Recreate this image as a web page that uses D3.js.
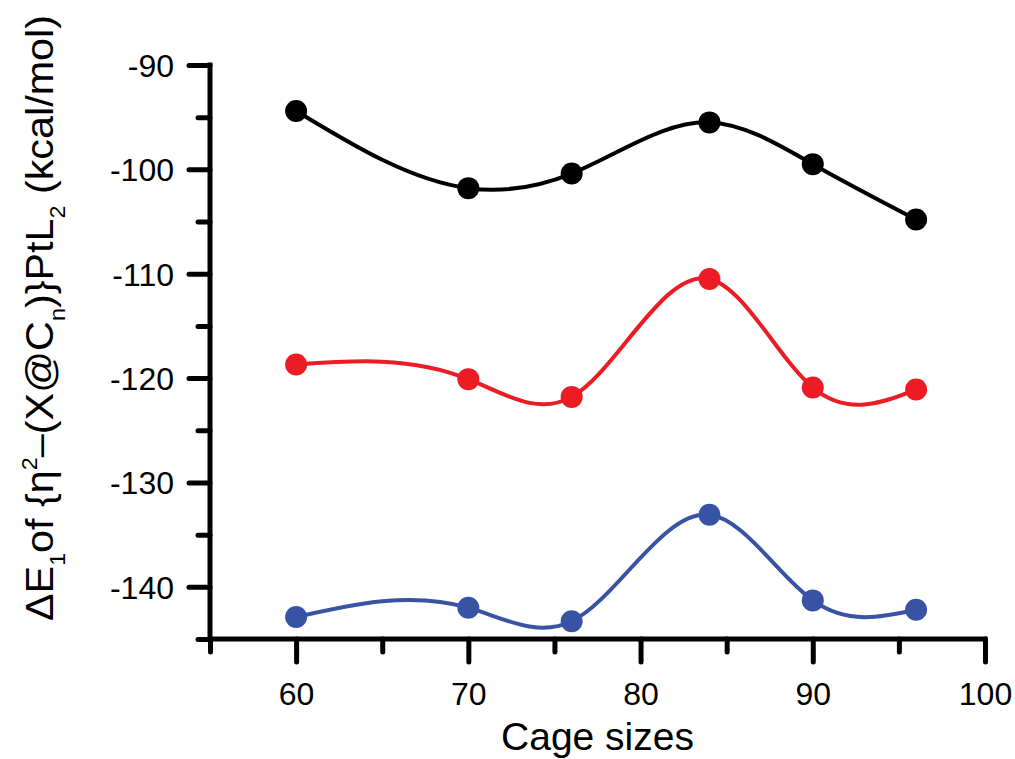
<!DOCTYPE html>
<html>
<head>
<meta charset="utf-8">
<script src="https://cdn.jsdelivr.net/npm/d3@7"></script>
<style>
  body { margin: 0; background: #fff; }
  text { font-family: Arial, "Liberation Sans", sans-serif; fill: #000; }
</style>
</head>
<body>
<div id="chart"></div>
<script>
// cage sizes (n of C_n)
var cageSizes = [60, 70, 76, 84, 90, 96];

// dE1 values (kcal/mol)
var blackSeries = [-94.4, -101.8, -100.4, -95.5, -99.5, -104.8];
var redSeries = [-118.7, -120.1, -121.8, -110.5, -120.9, -121.1];
var blueSeries = [-142.9, -142.0, -143.3, -133.1, -141.3, -142.2];

var xMajorTicks = [60, 70, 80, 90, 100];
var xMinorTicks = [55, 65, 75, 85, 95];
var yMajorTicks = [-90, -100, -110, -120, -130, -140];
var yMinorTicks = [-95, -105, -115, -125, -135, -145];

var series = [
    {name: "black", values: blackSeries, color: "#000000"},
    {name: "red", values: redSeries, color: "#ed1c24"},
    {name: "blue", values: blueSeries, color: "#3953a4"}
];

var W = 1015, H = 759;
var plotLeft = 210, plotRight = 985, plotTop = 65, plotBottom = 639;

// natural cubic spline with y as a function of x (like Origin's spline connector)
function CurveSplineX(context) { this._context = context; }
CurveSplineX.prototype = {
    areaStart: function() { this._line = 0; },
    areaEnd: function() { this._line = NaN; },
    lineStart: function() { this._x = []; this._y = []; },
    point: function(x, y) { this._x.push(+x); this._y.push(+y); },
    lineEnd: function() {
        var xs = this._x, ys = this._y, n = xs.length, ctx = this._context;
        if (!n) return;
        ctx.moveTo(xs[0], ys[0]);
        if (n < 3) { if (n == 2) ctx.lineTo(xs[1], ys[1]); return; }
        var h = [], M = [], i;
        for (i = 0; i < n - 1; i++) h[i] = xs[i + 1] - xs[i];
        for (i = 0; i < n; i++) M[i] = 0;
        // tridiagonal solve for interior second derivatives
        var cp = [], dp = [];
        for (i = 1; i < n - 1; i++) {
            var a = h[i - 1], b = 2 * (h[i - 1] + h[i]), c = h[i];
            var r = 6 * ((ys[i + 1] - ys[i]) / h[i] - (ys[i] - ys[i - 1]) / h[i - 1]);
            if (i == 1) { cp[i] = c / b; dp[i] = r / b; }
            else {
                var den = b - a * cp[i - 1];
                cp[i] = c / den;
                dp[i] = (r - a * dp[i - 1]) / den;
            }
        }
        M[n - 2] = dp[n - 2];
        for (i = n - 3; i >= 1; i--) M[i] = dp[i] - cp[i] * M[i + 1];
        for (i = 0; i < n - 1; i++) {
            var s = (ys[i + 1] - ys[i]) / h[i];
            var d0 = s - h[i] * (2 * M[i] + M[i + 1]) / 6;
            var d1 = s + h[i] * (M[i] + 2 * M[i + 1]) / 6;
            ctx.bezierCurveTo(xs[i] + h[i] / 3, ys[i] + d0 * h[i] / 3,
                xs[i + 1] - h[i] / 3, ys[i + 1] - d1 * h[i] / 3,
                xs[i + 1], ys[i + 1]);
        }
    }
};
function curveSplineX(context) { return new CurveSplineX(context); }

var svg = d3.select("#chart").append("svg")
    .attr("width", W)
    .attr("height", H);

var x = d3.scaleLinear().domain([55, 100]).range([plotLeft, plotRight]);
var y = d3.scaleLinear().domain([-145, -90]).range([plotBottom, plotTop]);

var plain = function(d) { return String(d); };

// axes: thick lines, outward ticks, no extra domain path
var xAxisMajor = d3.axisBottom(x).tickValues(xMajorTicks).tickSize(23).tickSizeOuter(0).tickPadding(20).tickFormat(plain);
var xAxisMinor = d3.axisBottom(x).tickValues(xMinorTicks).tickSize(13).tickSizeOuter(0).tickFormat("");
var yAxisMajor = d3.axisLeft(y).tickValues(yMajorTicks).tickSize(21).tickSizeOuter(0).tickPadding(15).tickFormat(plain);
var yAxisMinor = d3.axisLeft(y).tickValues(yMinorTicks).tickSize(12).tickSizeOuter(0).tickFormat("");

function styleAxis(g) {
    g.attr("font-family", null).attr("font-size", null);
    g.selectAll("path.domain").remove();
    g.selectAll("line").attr("stroke", "#000").attr("stroke-width", 5).attr("stroke-linecap", "round");
    g.selectAll("text").attr("fill", "#000");
}

var gx = svg.append("g").attr("transform", "translate(0," + plotBottom + ")");
gx.append("g").call(xAxisMinor).call(styleAxis);
gx.append("g").call(xAxisMajor).call(styleAxis)
    .selectAll("text").style("font-size", "32px").attr("dy", "0.71em");

var gy = svg.append("g").attr("transform", "translate(" + plotLeft + ",0)");
gy.append("g").call(yAxisMinor).call(styleAxis);
gy.append("g").call(yAxisMajor).call(styleAxis)
    .selectAll("text").style("font-size", "32px").attr("dy", "0.36em");

// axis lines
svg.append("line")
    .attr("x1", plotLeft).attr("x2", plotRight).attr("y1", plotBottom).attr("y2", plotBottom)
    .attr("stroke", "#000").attr("stroke-width", 5).attr("stroke-linecap", "square");
svg.append("line")
    .attr("x1", plotLeft).attr("x2", plotLeft).attr("y1", plotTop).attr("y2", plotBottom)
    .attr("stroke", "#000").attr("stroke-width", 5).attr("stroke-linecap", "square");

// smooth curves through the points
var line = d3.line()
    .curve(curveSplineX)
    .x(function(d) { return x(d.n); })
    .y(function(d) { return y(d.v); });

series.forEach(function(s) {
    var pts = cageSizes.map(function(n, i) { return {n: n, v: s.values[i]}; });
    var g = svg.append("g").attr("class", "series-" + s.name);
    g.append("path")
        .datum(pts)
        .attr("fill", "none")
        .attr("stroke", s.color)
        .attr("stroke-width", 4)
        .attr("d", line);
    g.selectAll("circle")
        .data(pts)
        .enter()
        .append("circle")
        .attr("cx", function(d) { return x(d.n); })
        .attr("cy", function(d) { return y(d.v); })
        .attr("r", 11)
        .attr("fill", s.color);
});

// axis titles
svg.append("text")
    .attr("x", (plotLeft + plotRight) / 2)
    .attr("y", 750)
    .attr("text-anchor", "middle")
    .style("font-size", "39px")
    .text("Cage sizes");

var ylab = svg.append("text")
    .attr("transform", "translate(53,318) rotate(-90) scale(1.06,1)")
    .attr("text-anchor", "middle")
    .style("font-size", "39px");
ylab.append("tspan").text("\u0394E");
ylab.append("tspan").attr("dy", 12).style("font-size", "22px").text("1");
ylab.append("tspan").attr("dy", -12).text("of {\u03B7");
ylab.append("tspan").attr("dy", -16).style("font-size", "22px").text("2");
ylab.append("tspan").attr("dy", 16).text("\u2013(X@C");
ylab.append("tspan").attr("dy", 12).style("font-size", "22px").text("n");
ylab.append("tspan").attr("dy", -12).text(")}PtL");
ylab.append("tspan").attr("dy", 12).style("font-size", "22px").text("2");
ylab.append("tspan").attr("dy", -12).text(" (kcal/mol)");
</script>
</body>
</html>
